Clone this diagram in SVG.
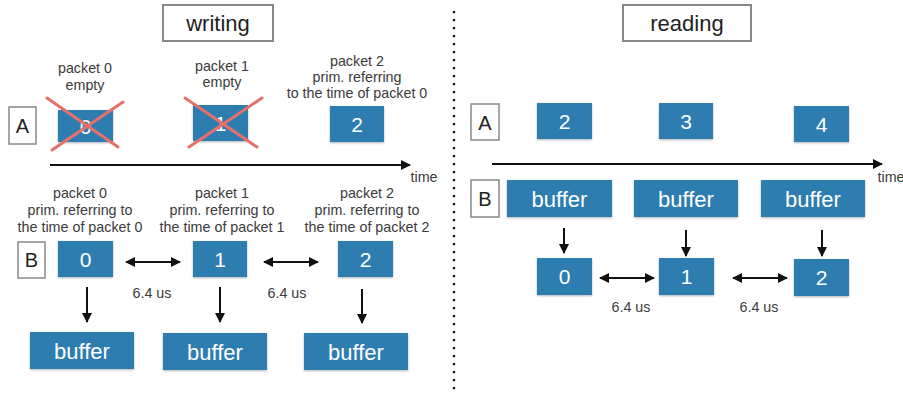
<svg xmlns="http://www.w3.org/2000/svg" width="903" height="394" viewBox="0 0 903 394">
<style>
  .bg{fill:#ffffff}
  .title{fill:#fff;stroke:#888;stroke-width:2}
  .lbl{fill:#fff;stroke:#888;stroke-width:1.5}
  .blue{fill:#2f7db1;filter:url(#sh)}
  .wt{fill:#ffffff;font-family:"Liberation Sans",Arial,sans-serif;text-anchor:middle}
  .bt{fill:#222;font-family:"Liberation Sans",Arial,sans-serif;text-anchor:middle}
  .gt{fill:#3a3a3a;font-family:"Liberation Sans",Arial,sans-serif;font-size:14.3px;text-anchor:middle}
  .ln{stroke:#111;stroke-width:2;fill:none}
  .x{stroke:#e8706a;stroke-width:3;stroke-linecap:round}
  .dots{stroke:#111;stroke-width:2.2;stroke-dasharray:2.2 5.8}
</style>
<defs>
  <filter id="sh" x="-10%" y="-10%" width="120%" height="130%">
    <feDropShadow dx="0" dy="1" stdDeviation="0.8" flood-color="#000" flood-opacity="0.3"/>
  </filter>
  <marker id="ah" viewBox="0 0 10 10" refX="9" refY="5" markerWidth="5" markerHeight="5" orient="auto-start-reverse" markerUnits="strokeWidth">
    <path d="M0,0 L10,5 L0,10 z" fill="#111"/>
  </marker>
</defs>
<rect class="bg" x="0" y="0" width="903" height="394"/>

<!-- divider -->
<line class="dots" x1="454" y1="11" x2="454" y2="392"/>

<!-- titles -->
<g id="title-writing">
  <rect class="title" x="163" y="5" width="110" height="36"/>
  <text class="bt" x="218" y="31" font-size="22">writing</text>
</g>
<g id="title-reading">
  <rect class="title" x="623" y="5" width="128" height="36"/>
  <text class="bt" x="687" y="31" font-size="22">reading</text>
</g>

<!-- ===== writing A ===== -->
<g id="w-labelA">
  <rect class="lbl" x="9" y="107" width="27" height="37"/>
  <text class="bt" x="22.5" y="133" font-size="20">A</text>
</g>
<g id="w-a0">
  <text class="gt" x="85" y="73">packet 0</text>
  <text class="gt" x="85" y="90">empty</text>
  <rect class="blue" x="58" y="110" width="55" height="32"/>
  <text class="wt" x="85.5" y="134" font-size="21">0</text>
  <line class="x" x1="47" y1="98" x2="118" y2="147"/>
  <line class="x" x1="123" y1="102" x2="52" y2="150"/>
</g>
<g id="w-a1">
  <text class="gt" x="222" y="71">packet 1</text>
  <text class="gt" x="222" y="87">empty</text>
  <rect class="blue" x="193" y="105" width="55" height="36"/>
  <text class="wt" x="220.5" y="131" font-size="21">1</text>
  <line class="x" x1="185" y1="98" x2="257" y2="147"/>
  <line class="x" x1="262" y1="98" x2="189" y2="147"/>
</g>
<g id="w-a2">
  <text class="gt" x="357" y="66">packet 2</text>
  <text class="gt" x="357" y="82">prim. referring</text>
  <text class="gt" x="357" y="98">to the time of packet 0</text>
  <rect class="blue" x="330" y="106" width="54" height="36"/>
  <text class="wt" x="357" y="132" font-size="21">2</text>
</g>

<!-- ===== writing B ===== -->
<g id="w-labelB">
  <rect class="lbl" x="18" y="242" width="27" height="36"/>
  <text class="bt" x="31.5" y="267" font-size="20">B</text>
</g>
<g id="w-b0">
  <text class="gt" x="80" y="198">packet 0</text>
  <text class="gt" x="80" y="215">prim. referring to</text>
  <text class="gt" x="80" y="232">the time of packet 0</text>
  <rect class="blue" x="58" y="241" width="55" height="36"/>
  <text class="wt" x="85.5" y="267" font-size="21">0</text>
</g>
<g id="w-b1">
  <text class="gt" x="222" y="198">packet 1</text>
  <text class="gt" x="222" y="215">prim. referring to</text>
  <text class="gt" x="222" y="232">the time of packet 1</text>
  <rect class="blue" x="193" y="241" width="54" height="36"/>
  <text class="wt" x="220" y="267" font-size="21">1</text>
</g>
<g id="w-b2">
  <text class="gt" x="367" y="198">packet 2</text>
  <text class="gt" x="367" y="215">prim. referring to</text>
  <text class="gt" x="367" y="232">the time of packet 2</text>
  <rect class="blue" x="338" y="241" width="55" height="36"/>
  <text class="wt" x="365.5" y="267" font-size="21">2</text>
</g>
<g id="w-buf0">
  <rect class="blue" x="30" y="332" width="104" height="37"/>
  <text class="wt" x="82" y="359" font-size="22">buffer</text>
</g>
<g id="w-buf1">
  <rect class="blue" x="163" y="333" width="104" height="37"/>
  <text class="wt" x="215" y="360" font-size="22">buffer</text>
</g>
<g id="w-buf2">
  <rect class="blue" x="304" y="333" width="104" height="37"/>
  <text class="wt" x="356" y="360" font-size="22">buffer</text>
</g>

<!-- ===== reading A ===== -->
<g id="r-labelA">
  <rect class="lbl" x="471" y="104" width="28" height="36"/>
  <text class="bt" x="485" y="130" font-size="20">A</text>
</g>
<g id="r-a2">
  <rect class="blue" x="537" y="103" width="55" height="36"/>
  <text class="wt" x="564.5" y="129" font-size="21">2</text>
</g>
<g id="r-a3">
  <rect class="blue" x="659" y="103" width="54" height="36"/>
  <text class="wt" x="686" y="129" font-size="21">3</text>
</g>
<g id="r-a4">
  <rect class="blue" x="794" y="106" width="55" height="36"/>
  <text class="wt" x="821.5" y="132" font-size="21">4</text>
</g>

<!-- ===== reading B ===== -->
<g id="r-labelB">
  <rect class="lbl" x="471" y="180" width="28" height="37"/>
  <text class="bt" x="485" y="206" font-size="20">B</text>
</g>
<g id="r-buf0">
  <rect class="blue" x="507" y="180" width="105" height="37"/>
  <text class="wt" x="559.5" y="207" font-size="22">buffer</text>
</g>
<g id="r-buf1">
  <rect class="blue" x="634" y="180" width="104" height="37"/>
  <text class="wt" x="686" y="207" font-size="22">buffer</text>
</g>
<g id="r-buf2">
  <rect class="blue" x="761" y="180" width="104" height="37"/>
  <text class="wt" x="813" y="207" font-size="22">buffer</text>
</g>
<g id="r-b0">
  <rect class="blue" x="537" y="258" width="55" height="37"/>
  <text class="wt" x="564.5" y="284" font-size="21">0</text>
</g>
<g id="r-b1">
  <rect class="blue" x="659" y="258" width="55" height="37"/>
  <text class="wt" x="686.5" y="284" font-size="21">1</text>
</g>
<g id="r-b2">
  <rect class="blue" x="794" y="259" width="55" height="37"/>
  <text class="wt" x="821.5" y="285" font-size="21">2</text>
</g>

<!-- connectors -->
<g id="connectors">
  <line class="ln" x1="50" y1="165" x2="410" y2="165" marker-end="url(#ah)"/>
  <line class="ln" x1="492" y1="164" x2="882" y2="164" marker-end="url(#ah)"/>
  <line class="ln" x1="126" y1="262" x2="180" y2="262" marker-start="url(#ah)" marker-end="url(#ah)"/>
  <line class="ln" x1="264" y1="262" x2="318" y2="262" marker-start="url(#ah)" marker-end="url(#ah)"/>
  <line class="ln" x1="87" y1="287" x2="87" y2="322" marker-end="url(#ah)"/>
  <line class="ln" x1="220" y1="287" x2="220" y2="322" marker-end="url(#ah)"/>
  <line class="ln" x1="362" y1="289" x2="362" y2="323" marker-end="url(#ah)"/>
  <line class="ln" x1="564" y1="228" x2="564" y2="253" marker-end="url(#ah)"/>
  <line class="ln" x1="686" y1="230" x2="686" y2="256" marker-end="url(#ah)"/>
  <line class="ln" x1="822" y1="230" x2="822" y2="256" marker-end="url(#ah)"/>
  <line class="ln" x1="600" y1="278" x2="654" y2="278" marker-start="url(#ah)" marker-end="url(#ah)"/>
  <line class="ln" x1="733" y1="278" x2="787" y2="278" marker-start="url(#ah)" marker-end="url(#ah)"/>
</g>

<!-- axis / interval labels -->
<text class="gt" x="424" y="182">time</text>
<text class="gt" x="891" y="182">time</text>
<text class="gt" x="152" y="298">6.4 us</text>
<text class="gt" x="287" y="298">6.4 us</text>
<text class="gt" x="631" y="312">6.4 us</text>
<text class="gt" x="759" y="312">6.4 us</text>
</svg>
